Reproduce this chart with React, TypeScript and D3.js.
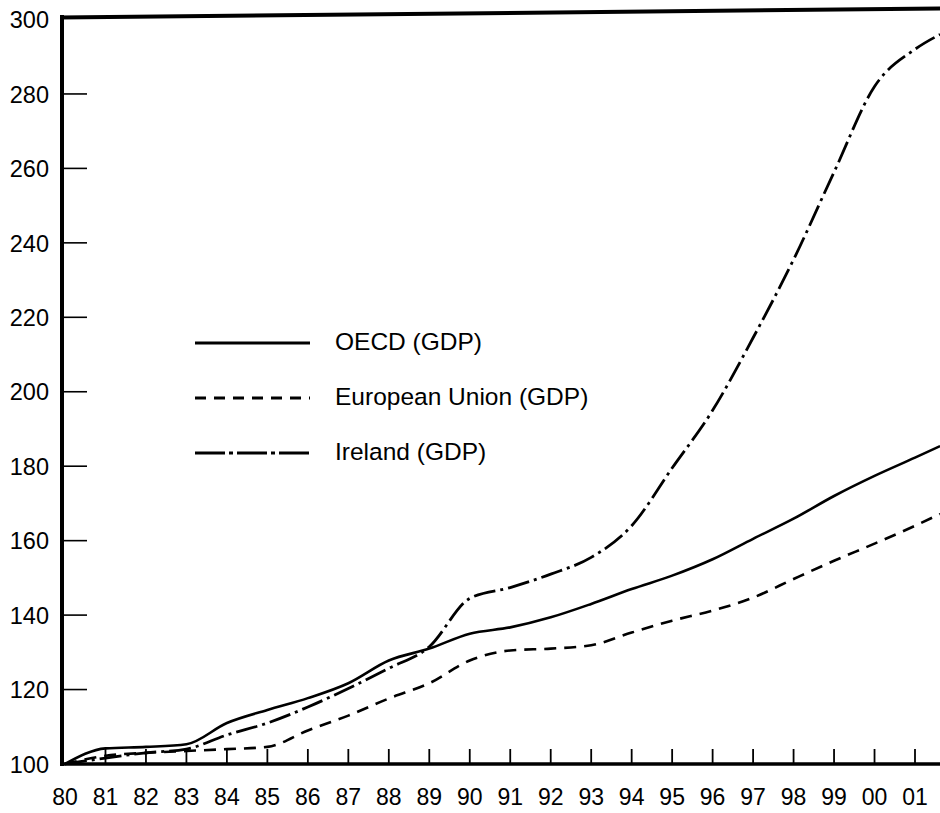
import React from "react";
import * as d3 from "d3";

// sample positions (years); last point is the right edge of the plot
const sampleYears = [
  1980, 1981, 1982, 1983, 1984, 1985, 1986, 1987, 1988, 1989, 1990,
  1991, 1992, 1993, 1994, 1995, 1996, 1997, 1998, 1999, 2000, 2001, 2001.62,
];
const oecdGDP = [
  100, 104.2, 104.6, 105.3, 111, 114.5, 117.7, 121.7, 127.8, 131, 135,
  136.7, 139.4, 143, 147, 150.6, 155, 160.5, 165.9, 172, 177.4, 182.3, 185.4,
];
const euGDP = [
  100, 102.2, 103, 103.5, 104, 104.6, 109, 113, 117.6, 121.7, 127.8,
  130.5, 131, 131.9, 135.3, 138.5, 141.2, 144.7, 149.7, 154.6, 159.2, 164, 167.2,
];
const irelandGDP = [
  100, 101.6, 103, 104, 107.8, 111, 115.3, 120.3, 125.7, 131.5, 144.5,
  147.4, 151, 155.5, 164, 179.5, 195, 214.5, 235.5, 259, 282, 292, 296,
];
const tickYears = [
  1980, 1981, 1982, 1983, 1984, 1985, 1986, 1987, 1988, 1989, 1990,
  1991, 1992, 1993, 1994, 1995, 1996, 1997, 1998, 1999, 2000, 2001,
];
const tickLabels = [
  "80", "81", "82", "83", "84", "85", "86", "87", "88", "89", "90",
  "91", "92", "93", "94", "95", "96", "97", "98", "99", "00", "01",
];
const yTicks = [100, 120, 140, 160, 180, 200, 220, 240, 260, 280, 300];
const seriesNames = ["OECD (GDP)", "European Union (GDP)", "Ireland (GDP)"];

const W = 940;
const H = 813;
const FONT = "'Liberation Sans', Arial, sans-serif";

export default function App() {
  const axisX = 62;
  const axisY = 764;
  const x = d3.scaleLinear().domain([1980, 2001]).range([65, 915]);
  const y = d3.scaleLinear().domain([100, 300]).range([axisY, 19.5]);

  const line = d3
    .line<number>()
    .x((_, i) => x(sampleYears[i]))
    .y((d) => y(d))
    .curve(d3.curveMonotoneX);

  const series = [
    { name: seriesNames[0], values: oecdGDP, dash: "none", w: 2.6 },
    { name: seriesNames[1], values: euGDP, dash: "12,8", w: 2.6 },
    { name: seriesNames[2], values: irelandGDP, dash: "22,5,3,5", w: 2.8 },
  ];

  const legendY = [343, 398, 453];
  const legendDash = ["none", "11,8", "30,4,4,4"];

  return (
    <svg
      width={W}
      height={H}
      viewBox={`0 0 ${W} ${H}`}
      style={{ position: "absolute", left: 0, top: 0, background: "#fff" }}
    >
      <defs>
        <clipPath id="plot">
          <rect x={axisX} y={0} width={W - axisX} height={axisY + 2} />
        </clipPath>
      </defs>
      <rect x={0} y={0} width={W} height={H} fill="#fff" />

      {/* y ticks (inward) and labels */}
      {yTicks.map((t) => (
        <g key={t}>
          {t !== 100 && t !== 300 && (
            <line x1={axisX} x2={axisX + 25} y1={y(t)} y2={y(t)} stroke="#000" strokeWidth={1.6} />
          )}
          <text
            x={49}
            y={y(t) + 2.5}
            textAnchor="end"
            dominantBaseline="middle"
            fontFamily={FONT}
            fontSize={23.5}
            fill="#000"
          >
            {t}
          </text>
        </g>
      ))}

      {/* x ticks (inward) and labels */}
      {tickYears.map((yr, i) => (
        <g key={yr}>
          {i > 0 && (
            <line x1={x(yr)} x2={x(yr)} y1={axisY} y2={axisY - 15} stroke="#000" strokeWidth={1.8} />
          )}
          <text
            x={x(yr)}
            y={799}
            textAnchor="middle"
            dominantBaseline="middle"
            fontFamily={FONT}
            fontSize={23}
            fill="#000"
          >
            {tickLabels[i]}
          </text>
        </g>
      ))}

      {/* series */}
      <g clipPath="url(#plot)">
        {series.map((s) => (
          <path
            key={s.name}
            d={line(s.values) || ""}
            fill="none"
            stroke="#000"
            strokeWidth={s.w}
            strokeDasharray={s.dash}
            strokeLinejoin="round"
          />
        ))}
      </g>

      {/* frame */}
      <line x1={axisX} x2={axisX} y1={15} y2={axisY + 2} stroke="#000" strokeWidth={4} />
      <line x1={axisX - 2} x2={W} y1={axisY} y2={axisY} stroke="#000" strokeWidth={3.5} />
      <line x1={axisX - 2} x2={W} y1={17.5} y2={8.5} stroke="#000" strokeWidth={4} />

      {/* legend */}
      {seriesNames.map((n, i) => (
        <g key={n}>
          <line
            x1={195}
            x2={310}
            y1={legendY[i]}
            y2={legendY[i]}
            stroke="#000"
            strokeWidth={3}
            strokeDasharray={legendDash[i]}
          />
          <text
            x={335}
            y={legendY[i] + 1}
            dominantBaseline="middle"
            fontFamily={FONT}
            fontSize={24.5}
            fill="#000"
          >
            {n}
          </text>
        </g>
      ))}
    </svg>
  );
}
